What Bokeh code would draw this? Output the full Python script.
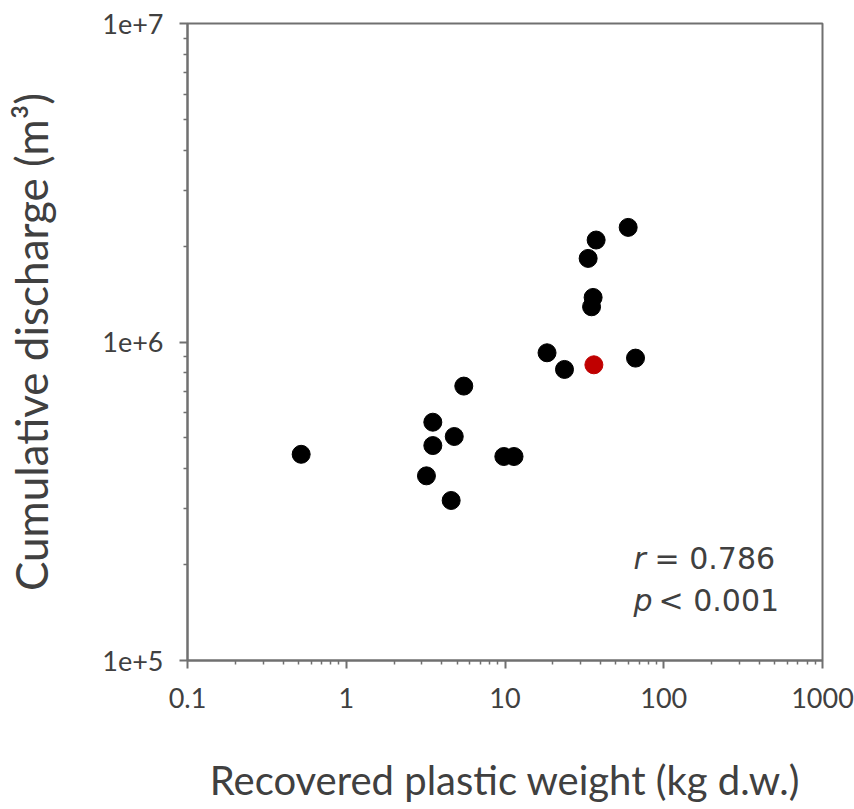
from bokeh.plotting import figure
from bokeh.models import FixedTicker, CustomJSTickFormatter, Label, ColumnDataSource
from bokeh.embed import file_html
from bokeh.resources import INLINE

# ---- data ----
weight_kg = [0.52, 3.51, 3.51, 4.79, 3.20, 4.58, 5.50, 9.83, 11.4, 18.4,
             23.7, 66.4, 35.1, 35.9, 33.4, 37.5, 59.7]
discharge_m3 = [444e3, 560e3, 473e3, 505e3, 380e3, 318e3, 727e3, 437e3, 437e3, 925e3,
                820e3, 890e3, 1.29e6, 1.38e6, 1.83e6, 2.09e6, 2.29e6]
highlight_weight = [36.3]
highlight_discharge = [848e3]

x_major = [0.1, 1, 10, 100, 1000]
y_major = [1e5, 1e6, 1e7]
stat_names = ["r", "p"]
stat_texts = ["= 0.786", "< 0.001"]

FONT = "Lato"
TXT = "#404040"
AX = "#707070"

p = figure(width=854, height=809, x_axis_type="log", y_axis_type="log",
           x_range=(0.1, 1000), y_range=(1e5, 1e7),
           output_backend="svg", toolbar_location=None,
           min_border_left=187, min_border_right=32,
           min_border_top=23, min_border_bottom=149)
p.background_fill_color = "white"
p.border_fill_color = "white"
p.outline_line_color = AX
p.outline_line_width = 2
p.xgrid.visible = False
p.ygrid.visible = False

x_minor = [m * v for v in x_major[:-1] for m in range(2, 10)]
y_minor = [m * v for v in y_major[:-1] for m in range(2, 10)]
p.xaxis.ticker = FixedTicker(ticks=x_major, minor_ticks=x_minor)
p.yaxis.ticker = FixedTicker(ticks=y_major, minor_ticks=y_minor)
p.xaxis.formatter = CustomJSTickFormatter(code="return tick < 1 ? tick.toFixed(1) : tick.toFixed(0);")
p.yaxis.formatter = CustomJSTickFormatter(code="return '1e+' + Math.round(Math.log10(tick));")

for ax in (p.xaxis[0], p.yaxis[0]):
    ax.axis_line_color = AX
    ax.axis_line_width = 2
    ax.major_tick_line_color = AX
    ax.minor_tick_line_color = AX
    ax.major_tick_line_width = 2
    ax.minor_tick_line_width = 1.5
    ax.major_tick_in = 0
    ax.minor_tick_in = 0
    ax.major_tick_out = 8
    ax.minor_tick_out = 4
    ax.major_label_text_font = FONT
    ax.major_label_text_font_size = "27px"
    ax.major_label_text_color = TXT
    ax.axis_label_text_font = FONT
    ax.axis_label_text_font_style = "normal"
    ax.axis_label_text_color = TXT

p.xaxis.axis_label = "Recovered plastic weight (kg d.w.)"
p.yaxis.axis_label = "Cumulative discharge (m³)"
p.xaxis.axis_label_text_font_size = "40px"
p.yaxis.axis_label_text_font_size = "44px"
p.xaxis.major_label_standoff = 19
p.xaxis.axis_label_standoff = 45
p.yaxis.major_label_standoff = 16
p.yaxis.axis_label_standoff = 42

src = ColumnDataSource(dict(x=weight_kg, y=discharge_m3))
p.scatter("x", "y", source=src, size=18, fill_color="black", line_color="black")
src2 = ColumnDataSource(dict(x=highlight_weight, y=highlight_discharge))
p.scatter("x", "y", source=src2, size=18, fill_color="#C00000", line_color="#C00000")

# statistics annotation
anchor_x = 64.5
anchor_y = 196e3
text_gaps = [21, 25]
for i, (nm, tx) in enumerate(zip(stat_names, stat_texts)):
    p.add_layout(Label(x=anchor_x, y=anchor_y, y_offset=9 - 42 * i, text=nm,
                       text_font="DejaVu Sans", text_font_style="italic",
                       text_font_size="30px", text_color=TXT,
                       text_baseline="alphabetic"))
    p.add_layout(Label(x=anchor_x, y=anchor_y, x_offset=text_gaps[i], y_offset=9 - 42 * i,
                       text=tx, text_font="DejaVu Sans", text_font_size="30px",
                       text_color=TXT, text_baseline="alphabetic"))

open("out.html", "w").write(file_html(p, INLINE))
